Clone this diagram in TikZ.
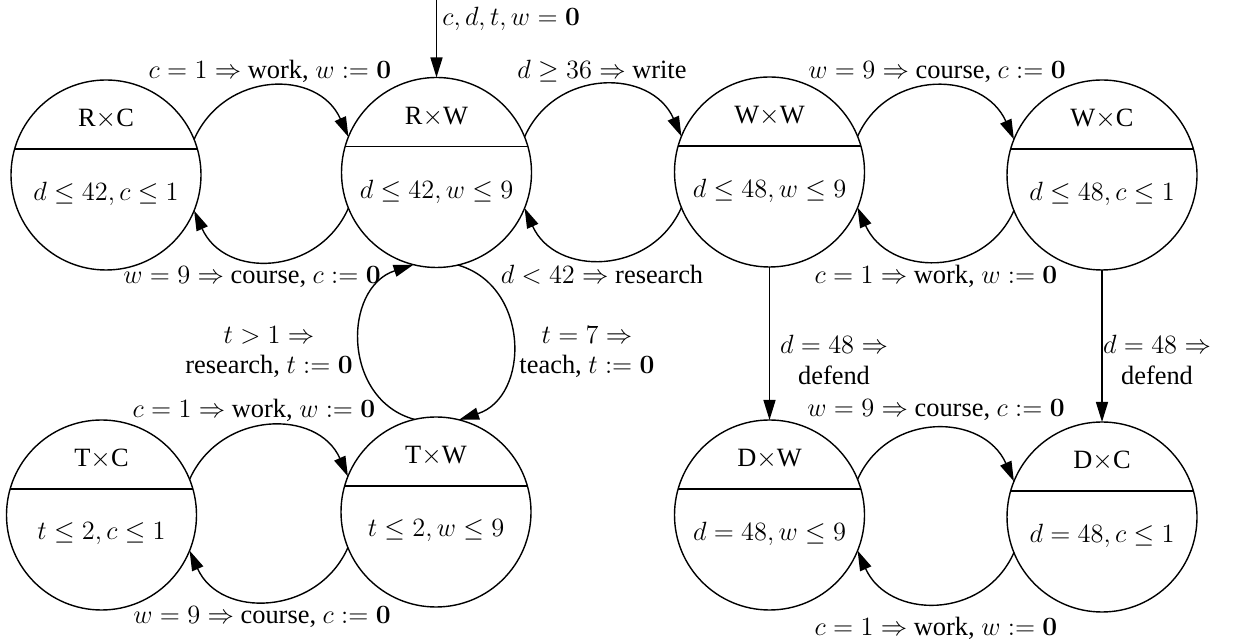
\RequirePackage{fix-cm}
\documentclass[tikz,border=0pt]{standalone}
\usepackage[no-math]{fontspec}
\setmainfont{Liberation Serif}
\usetikzlibrary{arrows.meta}
\newcommand{\mkstate}[4]{%
  \node[st] (#1) at (#2) {};
  \node (#1t) at ([yshift=28pt]#1.center) {#3};
  \node (#1i) at ([yshift=-9.5pt]#1.center) {#4};
  \draw[ln] (#1.16) -- (#1.164);
}
\begin{document}
\begin{tikzpicture}[x=0.5pt,y=0.5pt,
  every node/.style={font=\fontsize{13.2}{15.2}\selectfont, inner sep=0pt},
  st/.style={draw, circle, minimum size=95pt, line width=0.7pt, outer sep=0pt},
  ln/.style={line width=0.7pt},
  ed/.style={line width=0.7pt, -{Triangle[length=10pt,width=6pt]}},
  lb/.style={align=center}]
\useasboundingbox (0,0) rectangle (1240,641);

\mkstate{rc}{106,466}{R$\times$C}{$d\le 42, c\le 1$}
\mkstate{rw}{436.5,468.5}{R$\times$W}{$d\le 42, w\le 9$}
\mkstate{ww}{769.5,469}{W$\times$W}{$d\le 48, w\le 9$}
\mkstate{wc}{1102,466}{W$\times$C}{$d\le 48, c\le 1$}
\mkstate{tc}{101.5,126}{T$\times$C}{$t\le 2, c\le 1$}
\mkstate{tw}{436,129}{T$\times$W}{$t\le 2, w\le 9$}
\mkstate{dw}{769.5,126}{D$\times$W}{$d=48, w\le 9$}
\mkstate{dc}{1102,124}{D$\times$C}{$d=48, c\le 1$}

% initial
\coordinate (init) at (436.5,641);
\draw[ed] (init) -- (rw.north);
\node[anchor=west] (initl) at (442,622) {$c,d,t,w=\mathbf{0}$};

% R x C <-> R x W
\draw[ed] (rc.22) .. controls +(66:75) and +(114:75) .. (rw.158);
\draw[ed] (rw.-158) .. controls +(-114:75) and +(-66:75) .. (rc.-22);
\node (l1) at (270,570) {$c=1\Rightarrow$ work, $w:=\mathbf{0}$};
\node (l2) at (252,364) {$w=9\Rightarrow$ course, $c:=\mathbf{0}$};

% R x W <-> W x W
\draw[ed] (rw.22) .. controls +(66:75) and +(114:75) .. (ww.158);
\draw[ed] (ww.-158) .. controls +(-114:75) and +(-66:75) .. (rw.-22);
\node (l3) at (602,570) {$d\ge 36\Rightarrow$ write};
\node (l4) at (602,366) {$d<42\Rightarrow$ research};

% W x W <-> W x C
\draw[ed] (ww.22) .. controls +(66:75) and +(114:75) .. (wc.158);
\draw[ed] (wc.-158) .. controls +(-114:75) and +(-66:75) .. (ww.-22);
\node (l5) at (937,569) {$w=9\Rightarrow$ course, $c:=\mathbf{0}$};
\node (l6) at (936,365) {$c=1\Rightarrow$ work, $w:=\mathbf{0}$};

% R x W <-> T x W
\draw[ed] (rw.-77) .. controls +(-16:75) and +(18:75) .. (tw.76);
\draw[ed] (tw.103) .. controls +(165:75) and +(198:75) .. (rw.-104);
\node[lb] (l7) at (269,289) {$t>1\Rightarrow$\\research, $t:=\mathbf{0}$};
\node[lb] (l8) at (587,289) {$t=7\Rightarrow$\\teach, $t:=\mathbf{0}$};

% T x C <-> T x W
\draw[ed] (tc.22) .. controls +(66:75) and +(114:75) .. (tw.158);
\draw[ed] (tw.-158) .. controls +(-114:75) and +(-66:75) .. (tc.-22);
\node (l9) at (254,231) {$c=1\Rightarrow$ work, $w:=\mathbf{0}$};
\node (l10) at (262,24) {$w=9\Rightarrow$ course, $c:=\mathbf{0}$};

% defend
\draw[ed] (ww.south) -- (dw.north);
\draw[ed] (wc.south) -- (dc.north);
\node[lb] (l11) at (834,281) {$d=48\Rightarrow$\\defend};
\node[lb] (l12) at (1157,281) {$d=48\Rightarrow$\\defend};

% D x W <-> D x C
\draw[ed] (dw.22) .. controls +(66:75) and +(114:75) .. (dc.158);
\draw[ed] (dc.-158) .. controls +(-114:75) and +(-66:75) .. (dw.-22);
\node (l13) at (936,231) {$w=9\Rightarrow$ course, $c:=\mathbf{0}$};
\node (l14) at (936,13) {$c=1\Rightarrow$ work, $w:=\mathbf{0}$};
\end{tikzpicture}
\end{document}
